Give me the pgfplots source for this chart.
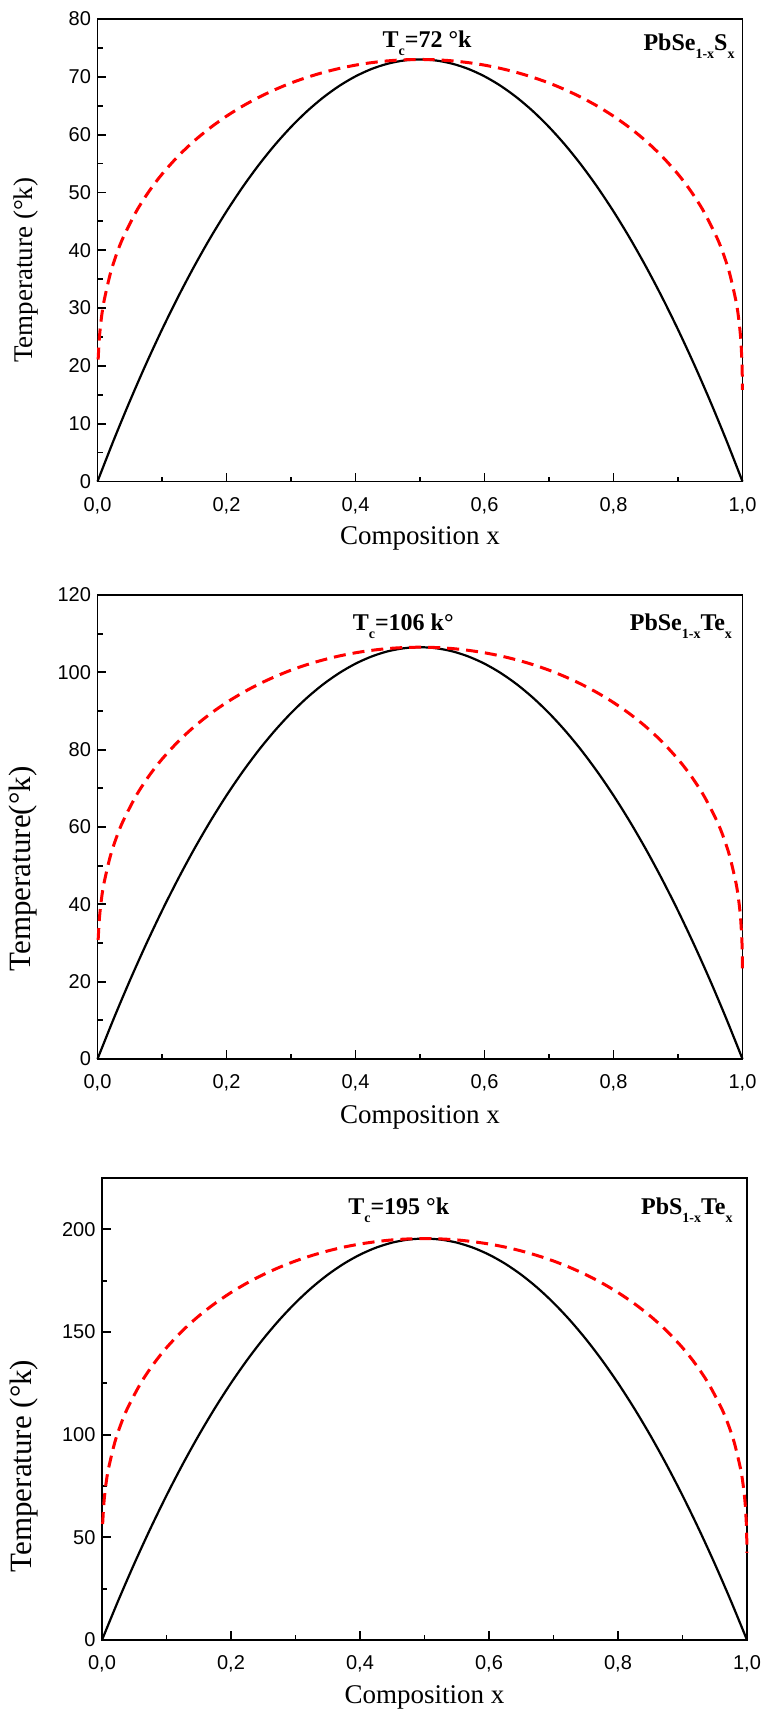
\documentclass[border=0pt]{standalone}
\usepackage{fontspec}
\setmainfont{Liberation Serif}
\setsansfont{Liberation Sans}
\usepackage{pgfplots}
\pgfplotsset{compat=1.18}
\newcommand\sub[1]{\raisebox{-8pt}{\fontsize{14}{14}\selectfont\bfseries #1}}
\newcommand\annfont{\fontsize{24}{24}\selectfont\bfseries}
\pgfplotsset{
  panel/.style={
    scale only axis, width=645pt,
    xmin=0, xmax=1,
    axis line style={line width=1.8pt},
    tick align=inside, tick pos=left,
    major tick length=9pt, minor tick length=5pt,
    every tick/.style={black, line width=1.8pt},
    xtick={0,0.2,0.4,0.6,0.8,1},
    xticklabels={{0,0},{0,2},{0,4},{0,6},{0,8},{1,0}},
    minor xtick={0.1,0.3,0.5,0.7,0.9},
    tick label style={font=\sffamily\fontsize{20}{24}\selectfont},
    xticklabel style={yshift=-12pt},
    yticklabel style={xshift=-3pt},
    xlabel={Composition x},
    xlabel style={font=\fontsize{27}{27}\selectfont, anchor=base},
    ylabel style={anchor=center},
    clip=false,
  },
  black curve/.style={black, line width=2.2pt, smooth},
  red curve/.style={red, line width=3pt, dash pattern=on 12pt off 7pt, smooth},
}
\begin{document}
\begin{tikzpicture}
\path[use as bounding box] (0,0) rectangle (763pt,-1715pt);
% ---------- Panel 1 ----------
\begin{axis}[panel, at={(97.5pt,-481.5pt)}, anchor=south west, height=462.5pt,
  ymin=0, ymax=80, ytick={0,10,20,30,40,50,60,70,80},
  yticklabels={0,10,20,30,40,50,60,70,80},
  minor ytick={5,15,25,35,45,55,65,75},
  xlabel style={at={([yshift=-62.5pt]axis description cs:0.5,0)}},
  ylabel={Temperature (°k)},
  ylabel style={font=\fontsize{27}{27}\selectfont, at={([xshift=-71.5pt,yshift=-20pt]axis description cs:0,0.5)}},
]
\addplot[black curve] coordinates {(0,0) (0.025,7.12) (0.05,13.87) (0.075,20.26) (0.1,26.28) (0.125,31.94) (0.15,37.23) (0.175,42.16) (0.2,46.72) (0.225,50.92) (0.25,54.75) (0.275,58.22) (0.3,61.32) (0.325,64.06) (0.35,66.43) (0.375,68.44) (0.4,70.08) (0.425,71.36) (0.45,72.27) (0.475,72.82) (0.5,73) (0.525,72.82) (0.55,72.27) (0.575,71.36) (0.6,70.08) (0.625,68.44) (0.65,66.43) (0.675,64.06) (0.7,61.32) (0.725,58.22) (0.75,54.75) (0.775,50.92) (0.8,46.72) (0.825,42.16) (0.85,37.23) (0.875,31.94) (0.9,26.28) (0.925,20.26) (0.95,13.87) (0.975,7.12) (1,0)};
\addplot[red curve] coordinates {(0.001,21.10) (0.003,25.00) (0.006,28.23) (0.01,31.14) (0.02,36.01) (0.03,39.48) (0.04,42.26) (0.06,46.69) (0.08,50.21) (0.1,53.16) (0.125,56.27) (0.15,58.92) (0.175,61.20) (0.2,63.19) (0.225,64.93) (0.25,66.45) (0.275,67.77) (0.3,68.93) (0.325,69.91) (0.35,70.75) (0.375,71.45) (0.4,72.02) (0.425,72.45) (0.45,72.76) (0.475,72.94) (0.5,73) (0.525,72.94) (0.55,72.76) (0.575,72.45) (0.6,72.02) (0.625,71.45) (0.65,70.75) (0.675,69.91) (0.7,68.93) (0.725,67.77) (0.75,66.45) (0.775,64.93) (0.8,63.19) (0.825,61.20) (0.85,58.92) (0.875,56.27) (0.9,53.16) (0.92,50.21) (0.94,46.69) (0.96,42.26) (0.97,39.48) (0.98,36.01) (0.99,31.14) (0.994,28.23) (0.997,25.00) (0.999,21.10) (0.9995,19.19) (0.9999,15.85)};
\node[anchor=base, inner sep=0pt] at (axis cs:0.511,75.0) {\annfont T\sub{c}=72 °k};
\node[anchor=base east, inner sep=0pt] at (axis cs:0.988,74.6) {\annfont PbSe\sub{1-x}S\sub{x}};
\end{axis}
% ---------- Panel 2 ----------
\begin{axis}[panel, at={(97.5pt,-1059pt)}, anchor=south west, height=464pt,
  ymin=0, ymax=120, ytick={0,20,40,60,80,100,120},
  yticklabels={0,20,40,60,80,100,120},
  minor ytick={10,30,50,70,90,110},
  xlabel style={at={([yshift=-64pt]axis description cs:0.5,0)}},
  ylabel={Temperature(°k)},
  ylabel style={font=\fontsize{31}{31}\selectfont, at={([xshift=-74pt,yshift=-42pt]axis description cs:0,0.5)}},
]
\addplot[black curve] coordinates {(0,0) (0.025,10.38) (0.05,20.24) (0.075,29.55) (0.1,38.34) (0.125,46.59) (0.15,54.32) (0.175,61.50) (0.2,68.16) (0.225,74.28) (0.25,79.88) (0.275,84.93) (0.3,89.46) (0.325,93.45) (0.35,96.92) (0.375,99.84) (0.4,102.24) (0.425,104.10) (0.45,105.44) (0.475,106.23) (0.5,106.5) (0.525,106.23) (0.55,105.44) (0.575,104.10) (0.6,102.24) (0.625,99.84) (0.65,96.92) (0.675,93.45) (0.7,89.46) (0.725,84.93) (0.75,79.88) (0.775,74.28) (0.8,68.16) (0.825,61.50) (0.85,54.32) (0.875,46.59) (0.9,38.34) (0.925,29.55) (0.95,20.24) (0.975,10.38) (1,0)};
\addplot[red curve] coordinates {(0.001,30.78) (0.003,36.47) (0.006,41.18) (0.01,45.43) (0.02,52.54) (0.03,57.60) (0.04,61.66) (0.06,68.12) (0.08,73.26) (0.1,77.55) (0.125,82.09) (0.15,85.96) (0.175,89.29) (0.2,92.19) (0.225,94.72) (0.25,96.94) (0.275,98.87) (0.3,100.56) (0.325,102.00) (0.35,103.22) (0.375,104.24) (0.4,105.06) (0.425,105.69) (0.45,106.15) (0.475,106.41) (0.5,106.5) (0.525,106.41) (0.55,106.15) (0.575,105.69) (0.6,105.06) (0.625,104.24) (0.65,103.22) (0.675,102.00) (0.7,100.56) (0.725,98.87) (0.75,96.94) (0.775,94.72) (0.8,92.19) (0.825,89.29) (0.85,85.96) (0.875,82.09) (0.9,77.55) (0.92,73.26) (0.94,68.12) (0.96,61.66) (0.97,57.60) (0.98,52.54) (0.99,45.43) (0.994,41.18) (0.997,36.47) (0.999,30.78) (0.9995,28.00) (0.9999,23.12)};
\node[anchor=base, inner sep=0pt] at (axis cs:0.474,110.9) {\annfont T\sub{c}=106 k°};
\node[anchor=base east, inner sep=0pt] at (axis cs:0.984,110.9) {\annfont PbSe\sub{1-x}Te\sub{x}};
\end{axis}
% ---------- Panel 3 ----------
\begin{axis}[panel, at={(102pt,-1640pt)}, anchor=south west, height=462pt,
  ymin=0, ymax=225, ytick={0,50,100,150,200},
  yticklabels={0,50,100,150,200},
  minor ytick={25,75,125,175},
  xlabel style={at={([yshift=-63pt]axis description cs:0.5,0)}},
  ylabel={Temperature (°k)},
  ylabel style={font=\fontsize{31}{31}\selectfont, at={([xshift=-78pt,yshift=-57pt]axis description cs:0,0.5)}},
]
\addplot[black curve] coordinates {(0,0) (0.025,19.06) (0.05,37.15) (0.075,54.25) (0.1,70.38) (0.125,85.53) (0.15,99.71) (0.175,112.90) (0.2,125.12) (0.225,136.36) (0.25,146.63) (0.275,155.91) (0.3,164.22) (0.325,171.55) (0.35,177.91) (0.375,183.28) (0.4,187.68) (0.425,191.10) (0.45,193.55) (0.475,195.01) (0.5,195.5) (0.525,195.01) (0.55,193.55) (0.575,191.10) (0.6,187.68) (0.625,183.28) (0.65,177.91) (0.675,171.55) (0.7,164.22) (0.725,155.91) (0.75,146.63) (0.775,136.36) (0.8,125.12) (0.825,112.90) (0.85,99.71) (0.875,85.53) (0.9,70.38) (0.925,54.25) (0.95,37.15) (0.975,19.06) (1,0)};
\addplot[red curve] coordinates {(0.001,56.50) (0.003,66.94) (0.006,75.60) (0.01,83.39) (0.02,96.45) (0.03,105.73) (0.04,113.19) (0.06,125.05) (0.08,134.48) (0.1,142.36) (0.125,150.70) (0.15,157.79) (0.175,163.90) (0.2,169.23) (0.225,173.88) (0.25,177.95) (0.275,181.50) (0.3,184.59) (0.325,187.23) (0.35,189.48) (0.375,191.36) (0.4,192.86) (0.425,194.01) (0.45,194.86) (0.475,195.34) (0.5,195.5) (0.525,195.34) (0.55,194.86) (0.575,194.01) (0.6,192.86) (0.625,191.36) (0.65,189.48) (0.675,187.23) (0.7,184.59) (0.725,181.50) (0.75,177.95) (0.775,173.88) (0.8,169.23) (0.825,163.90) (0.85,157.79) (0.875,150.70) (0.9,142.36) (0.92,134.48) (0.94,125.05) (0.96,113.19) (0.97,105.73) (0.98,96.45) (0.99,83.39) (0.994,75.60) (0.997,66.94) (0.999,56.50) (0.9995,51.39) (0.9999,42.44)};
\node[anchor=base, inner sep=0pt] at (axis cs:0.46,207) {\annfont T\sub{c}=195 °k};
\node[anchor=base east, inner sep=0pt] at (axis cs:0.978,207) {\annfont PbS\sub{1-x}Te\sub{x}};
\end{axis}
\end{tikzpicture}
\end{document}
